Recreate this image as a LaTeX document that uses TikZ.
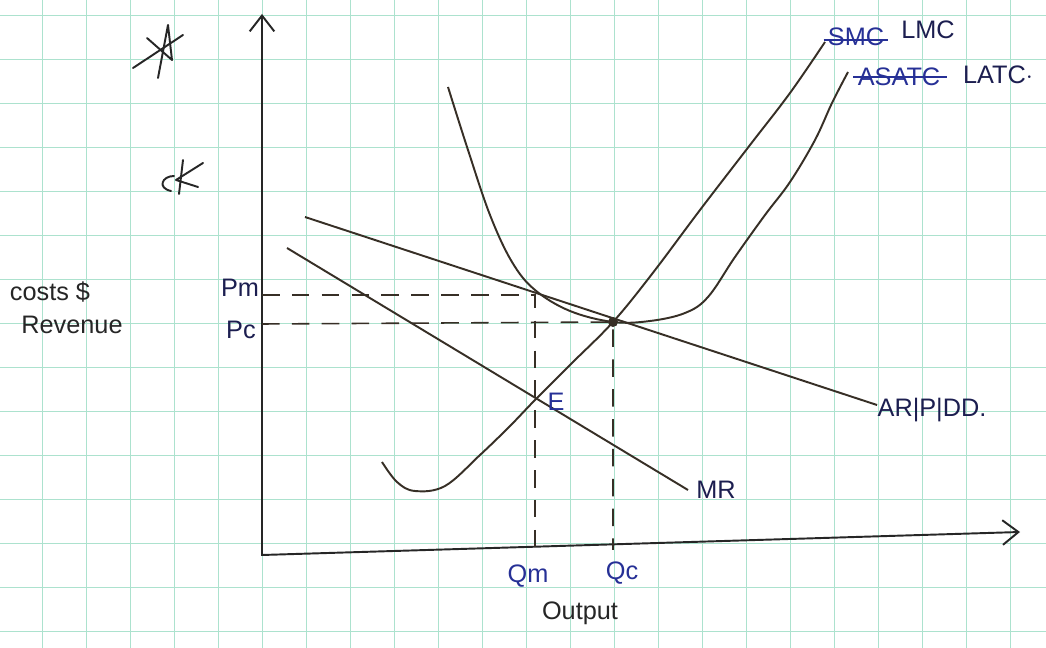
\documentclass[tikz,border=0pt]{standalone}
\usepackage{fontspec}
\setmainfont{Liberation Sans}
\usetikzlibrary{positioning, arrows.meta, calc}
\definecolor{inkblue}{RGB}{38,48,150}
\definecolor{inknavy}{RGB}{28,30,80}
\definecolor{pencil}{RGB}{55,47,38}
\definecolor{gridgreen}{RGB}{172,226,206}

\begin{document}
\begin{tikzpicture}[x=0.02cm, y=-0.02cm,
    gridline/.style={draw=gridgreen, line width=0.55pt},
    axis/.style={draw=black!85, line width=1.1pt},
    curve/.style={draw=pencil, line width=1.1pt},
    guide/.style={draw=pencil, line width=0.9pt, dash pattern=on 10pt off 7pt},
    lbl/.style={font=\Large, text=inknavy, inner sep=0pt},
    blue lbl/.style={lbl, text=inkblue},
    black lbl/.style={lbl, text=black!85},
    strike/.style={draw=inkblue, line width=1.2pt}]
  % paper
  \fill[white] (0,0) rectangle (1046,648);
  \useasboundingbox (0,0) rectangle (1046,648);
  \foreach \gx in {42,86,...,1046} \draw[gridline] (\gx,0) -- (\gx,648);
  \foreach \gy in {15,59,...,648} \draw[gridline] (0,\gy) -- (1046,\gy);

  % axes
  \coordinate (O) at (262,555);
  \coordinate (ytip) at (262,14);
  \coordinate (xtip) at (1020,532);
  \draw[axis, {Straight Barb[length=9pt,width=14pt]}-{Straight Barb[length=9pt,width=14pt]}] (ytip) -- (O) -- (xtip);

  % key points
  \coordinate (pm) at (262,295);
  \coordinate (pc) at (262,324);
  \coordinate (qm) at (535,553);
  \coordinate (qc) at (613,550);
  \coordinate (mono) at (535,295);
  \coordinate (comp) at (613,322);

  % demand and marginal revenue
  \coordinate (ar0) at (305,217);
  \coordinate (ar1) at (877,405);
  \coordinate (mr0) at (287,248);
  \coordinate (mr1) at (688,490);
  \draw[curve] (ar0) -- (ar1);
  \draw[curve] (mr0) -- (mr1);

  % cost curves
  \draw[curve] plot[smooth, tension=0.6] coordinates {(382,462) (397,482) (415,491) (445,486) (480,455) (510,426) (535,400) (572,363) (613,322) (652,274) (700,210) (750,145) (790,93) (825,42)};
  \draw[curve] plot[smooth, tension=0.6] coordinates {(448,87) (468,150) (490,215) (512,262) (535,290) (570,311) (613,322) (650,321) (685,313) (708,297) (735,257) (765,215) (790,182) (815,140) (832,103) (848,72)};
  \fill[pencil] (comp) circle (5);

  % dashed guides
  \draw[guide] (pm) -- (mono) -- (qm);
  \draw[guide] (pc) -- (comp) -- (qc);

  % labels
  \node[blue lbl] (smc) at (856,37) {SMC};
  \node[lbl] (lmc) at (928,30) {LMC};
  \node[blue lbl] (asatc) at (899,77) {ASATC};
  \node[lbl] (latc) at (998,75) {LATC$\cdot$};
  \draw[strike] ($(smc.west)+(-4,3)$) -- ($(smc.east)+(4,3)$);
  \draw[strike] ($(asatc.west)+(-4,0)$) -- ($(asatc.east)+(6,0)$);
  \node[lbl] (pmlbl) at (240,288) {Pm};
  \node[lbl] (pclbl) at (241,330) {Pc};
  \node[blue lbl] (qmlbl) at (528,576) {Qm};
  \node[blue lbl] (qclbl) at (622,573) {Qc};
  \node[black lbl] (output) at (580,613) {Output};
  \node[blue lbl] (elbl) at (556,402) {E};
  \node[lbl] (mrlbl) at (716,490) {MR};
  \node[lbl] (arlbl) at (932,410) {AR|P|DD.};
  \node[black lbl] (costs) at (50,292) {costs \$};
  \node[black lbl] (revenue) at (72,325) {Revenue};

  % margin marks
  \draw[black!85, line width=1.1pt, line cap=round] (133,68) -- (183,35);
  \draw[black!85, line width=1.1pt, line cap=round, line join=round] (158,78) -- (168,25) -- (172,60) -- (147,38);
  \draw[black!85, line width=1.1pt, line cap=round, line join=round] (203,163) -- (176,180) -- (198,187);
  \draw[black!85, line width=1.1pt, line cap=round] (183,160) -- (179,194);
  \draw[black!85, line width=1.1pt, line cap=round] (174,176) .. controls (162,176) and (157,188) .. (171,191);
\end{tikzpicture}
\end{document}
